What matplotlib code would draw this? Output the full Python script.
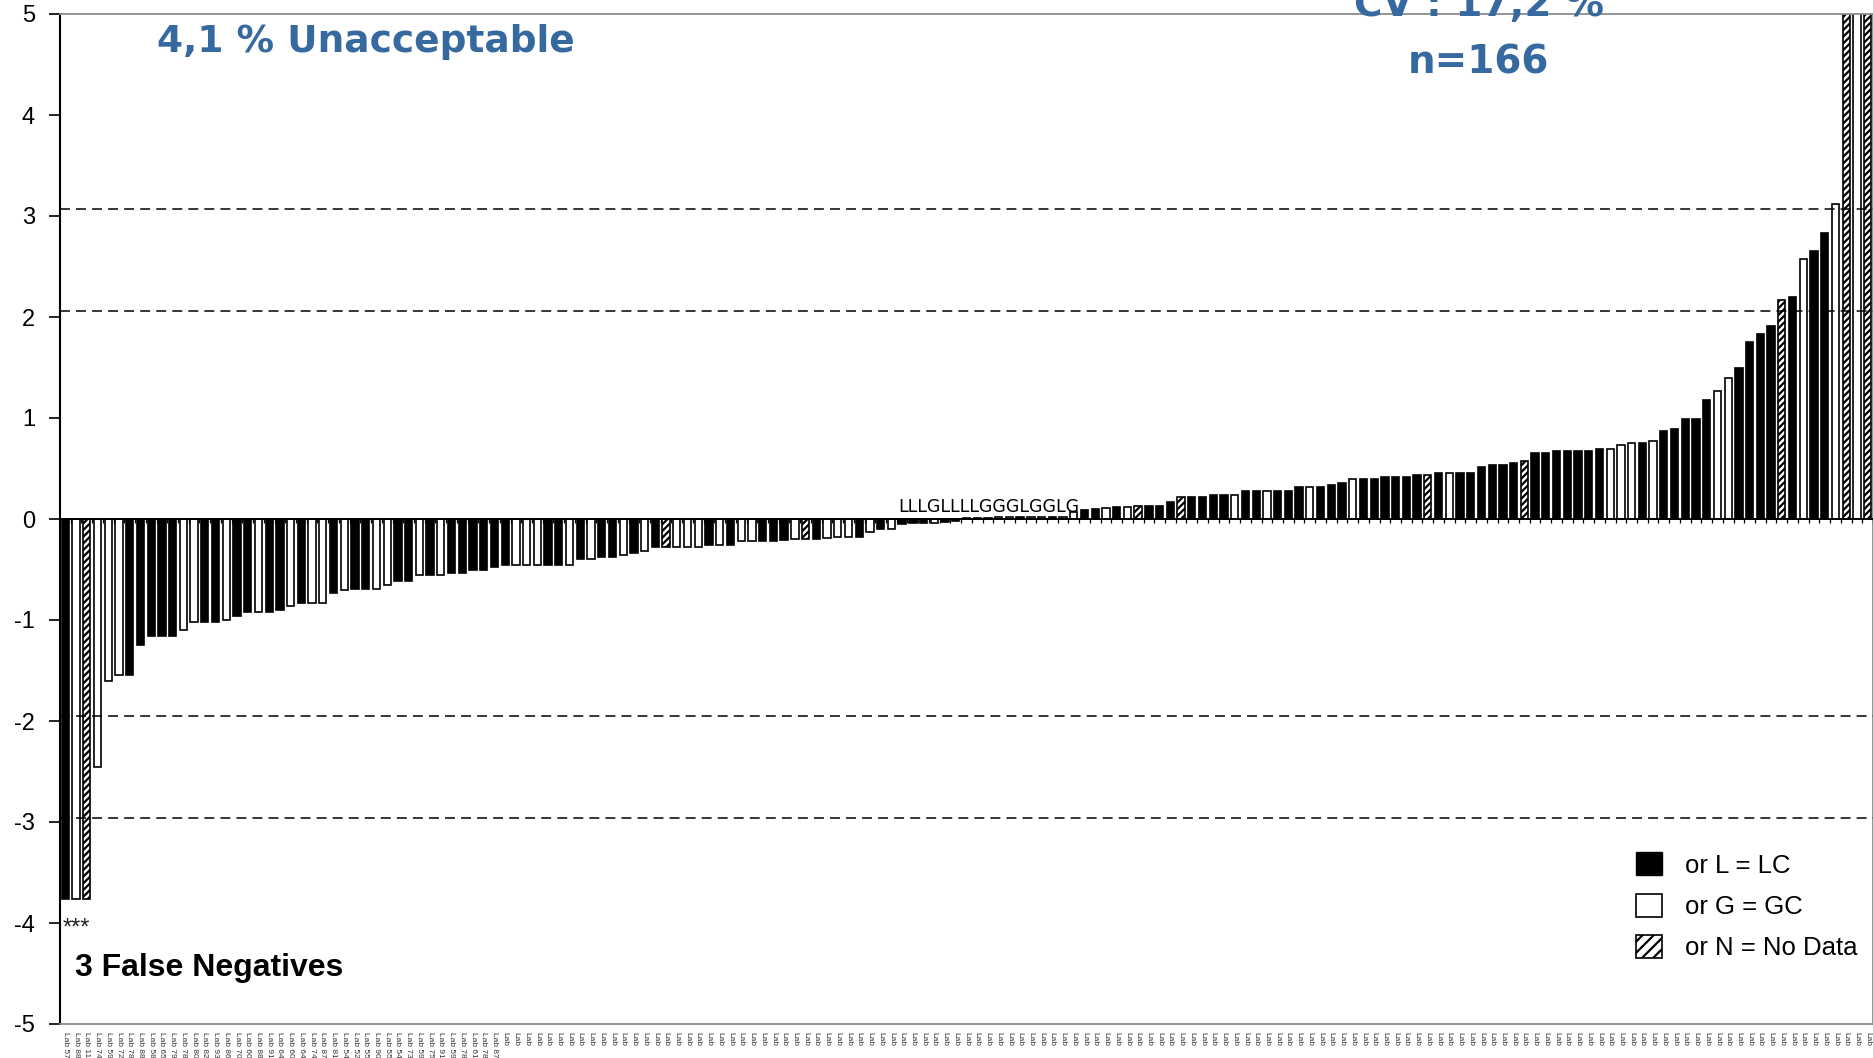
import matplotlib
matplotlib.use("Agg")
import matplotlib.pyplot as plt
from matplotlib.patches import Patch
import numpy as np

# z-scores of the participating labs, sorted ascending
z_scores = [
    -3.76, -3.76, -3.76, -2.46, -1.60, -1.54, -1.54, -1.25, -1.16, -1.16,
    -1.16, -1.10, -1.02, -1.02, -1.02, -1.00, -0.96, -0.92, -0.92, -0.92,
    -0.90, -0.86, -0.83, -0.83, -0.83, -0.73, -0.70, -0.69, -0.69, -0.69,
    -0.65, -0.61, -0.61, -0.55, -0.55, -0.55, -0.53, -0.53, -0.50, -0.50,
    -0.48, -0.46, -0.46, -0.46, -0.46, -0.46, -0.46, -0.46, -0.40, -0.40,
    -0.38, -0.38, -0.36, -0.34, -0.32, -0.28, -0.28, -0.28, -0.28, -0.28,
    -0.26, -0.26, -0.26, -0.22, -0.22, -0.22, -0.22, -0.21, -0.20, -0.20,
    -0.20, -0.19, -0.18, -0.18, -0.18, -0.13, -0.10, -0.10, -0.05, -0.04,
    -0.04, -0.035, -0.03, -0.02, 0.01, 0.01, 0.01, 0.015, 0.015, 0.015,
    0.02, 0.02, 0.02, 0.02, 0.07, 0.09, 0.10, 0.11, 0.12, 0.12,
    0.13, 0.13, 0.13, 0.17, 0.22, 0.22, 0.22, 0.24, 0.24, 0.24,
    0.28, 0.28, 0.28, 0.28, 0.28, 0.32, 0.32, 0.32, 0.34, 0.36,
    0.40, 0.40, 0.40, 0.42, 0.42, 0.42, 0.44, 0.44, 0.46, 0.46,
    0.46, 0.46, 0.51, 0.53, 0.53, 0.55, 0.57, 0.65, 0.65, 0.67,
    0.67, 0.67, 0.67, 0.69, 0.69, 0.73, 0.75, 0.75, 0.77, 0.87,
    0.89, 0.99, 0.99, 1.18, 1.27, 1.40, 1.50, 1.75, 1.83, 1.91,
    2.17, 2.20, 2.57, 2.65, 2.83, 3.12, 5.5, 6.0, 7.0,
]

# method per lab: L = LC, G = GC, N = no data
methods = (
    "LGNGGGLLLL" "LGGLLGLLGL" "LGLGGLGLLG" "GLLGLGLLLL"
    "LLGGGLLGLG" "LLGLGLNGGG" "LGLGGLLLGN" "LGGGLGLGLL"
    "LGLLLLGGGL" "GGLGGLLGLG" "NLLLNLLLLG" "LLGLLLGLLL"
    "GLLLLLLNLG" "LLLLLLNLLL" "LLLLGGGLGL" "LLLLGGLLLL"
    "NLGLLGNGN"
)

# lab ids, as far as they can be made out under the first bars
lab_ids = [
    "57", "88", "11", "74", "59", "72", "78", "88", "58", "65", "79", "78",
    "80", "82", "93", "86", "70", "60", "88", "91", "64", "60", "64", "74",
    "87", "81", "54", "52", "55", "90", "55", "54", "73", "59", "75", "91",
    "59", "78", "61", "78", "87",
]
lab_labels = [f"Lab {i}" for i in lab_ids] + ["Lab"] * (len(z_scores) - len(lab_ids))

limit_lines = [3.07, 2.06, -1.95, -2.96]
tiny_bar_codes = "LLLGLLLLGGGLGGLG"
first_tiny_bar = 78

blue = "#36699F"
plt.rcParams["axes.unicode_minus"] = False
plt.rcParams["hatch.linewidth"] = 1.6
plt.rcParams["font.family"] = ["Liberation Sans", "DejaVu Sans"]

fig = plt.figure(figsize=(18.74, 10.58), dpi=100)
ax = fig.add_axes([60 / 1874, 34 / 1058, 1813 / 1874, 1010 / 1058])

x = np.arange(len(z_scores))
styles = {
    "L": dict(color="black", edgecolor="black", hatch=None),
    "G": dict(color="white", edgecolor="black", hatch=None),
    "N": dict(color="white", edgecolor="black", hatch="/////"),
}
for code, style in styles.items():
    idx = [i for i, m in enumerate(methods) if m == code]
    ax.bar(x[idx], [z_scores[i] for i in idx], width=0.68, linewidth=1.2,
           zorder=2, **style)

for level in limit_lines:
    ax.axhline(level, color="black", lw=1.1, linestyle=(0, (6.5, 4)), zorder=3)

# category axis drawn through zero, with small ticks between categories
ax.axhline(0, color="black", lw=1.4, zorder=4)
ax.vlines(np.arange(len(z_scores) + 1) - 0.5, -0.035, 0, color="black", lw=0.9, zorder=4)

ax.set_xlim(-0.5, len(z_scores) - 0.5)
ax.set_ylim(-5, 5)
ax.set_yticks(range(-5, 6))
ax.tick_params(axis="y", labelsize=17, length=8, width=1.2, pad=10)
ax.set_xticks(x)
ax.set_xticklabels(lab_labels, rotation=270, fontsize=6, color="#333333")
ax.tick_params(axis="x", length=0, pad=6)

for side in ["top", "right", "bottom"]:
    ax.spines[side].set_color("#8c8c8c")
    ax.spines[side].set_linewidth(1.3)
ax.spines["left"].set_linewidth(1.5)

ax.text(first_tiny_bar - 0.4, 0.07, tiny_bar_codes, fontsize=12.5,
        family="DejaVu Sans", va="baseline", ha="left", zorder=5)
ax.text(1, -4.05, "***", fontsize=17, ha="center", va="center", color="#222222")
ax.text(15 / 1813, 0.055, "3 False Negatives", transform=ax.transAxes,
        fontsize=23, fontweight="bold", ha="left", va="center")

fig.text(0.195, 1 - 52 / 1058, "4,1 % Unacceptable", color=blue, fontsize=27,
         fontweight="bold", family="DejaVu Sans", ha="center", va="baseline")
fig.text(0.789, 1 - 16 / 1058, "CV : 17,2 %", color=blue, fontsize=28,
         fontweight="bold", family="DejaVu Sans", ha="center", va="baseline")
fig.text(0.789, 1 - 73 / 1058, "n=166", color=blue, fontsize=28,
         fontweight="bold", family="DejaVu Sans", ha="center", va="baseline")

handles = [
    Patch(facecolor="black", edgecolor="black"),
    Patch(facecolor="white", edgecolor="black", linewidth=1.2),
    Patch(facecolor="white", edgecolor="black", hatch="///", linewidth=1.2),
]
ax.legend(handles, ["or L = LC", "or G = GC", "or N = No Data"], loc="lower right",
          bbox_to_anchor=(1.004, 0.04), frameon=False, fontsize=18.5,
          handlelength=1.0, handleheight=1.0, handletextpad=0.9, labelspacing=0.63)

fig.savefig("out.png", dpi=100)
